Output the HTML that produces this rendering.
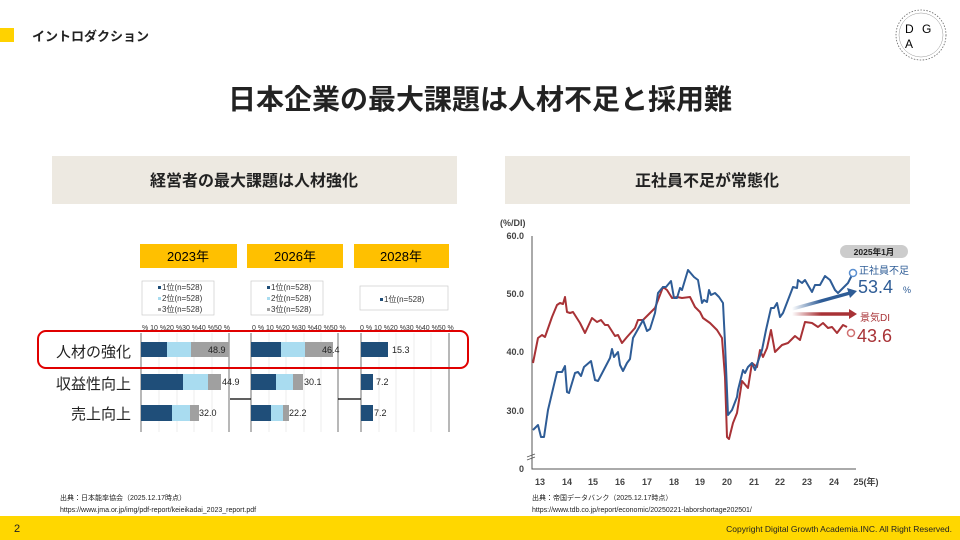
<!DOCTYPE html><html><head><meta charset="utf-8"><style>
body{margin:0;width:960px;height:540px;overflow:hidden;background:#fff;font-family:"Liberation Sans","Noto Sans CJK JP",sans-serif;position:relative}
.a{position:absolute;white-space:nowrap}
</style></head><body>
<div class="a" style="left:0;top:28px;width:14px;height:14px;background:#FFD200"></div>
<div class="a" style="left:32px;top:26px;font-size:13px;font-weight:bold;color:#222">イントロダクション</div>
<div class="a" style="left:0;width:960px;top:78px;text-align:center;font-size:28px;font-weight:bold;color:#222">日本企業の最大課題は人材不足と採用難</div>
<svg class="a" style="left:0;top:0" width="960" height="540">
<circle cx="921" cy="35" r="25" fill="none" stroke="#666" stroke-width="0.8" stroke-dasharray="1.5 1.5"/>
<circle cx="921" cy="35" r="22" fill="none" stroke="#999" stroke-width="0.5"/>
<text x="905" y="33" font-size="12" font-family="Liberation Sans">D</text><text x="922" y="33" font-size="12" font-family="Liberation Sans">G</text><text x="905" y="48" font-size="12" font-family="Liberation Sans">A</text>
<rect x="52" y="156" width="405" height="48" fill="#EDE9E1"/>
<rect x="505" y="156" width="405" height="48" fill="#EDE9E1"/>
<text x="254" y="186" font-size="16" font-weight="bold" text-anchor="middle" fill="#222">経営者の最大課題は人材強化</text>
<text x="707" y="186" font-size="16" font-weight="bold" text-anchor="middle" fill="#222">正社員不足が常態化</text>
<rect x="140" y="244" width="97" height="24" fill="#FFC000"/><rect x="247" y="244" width="96" height="24" fill="#FFC000"/><rect x="354" y="244" width="95" height="24" fill="#FFC000"/>
<text x="188" y="261" font-size="13" text-anchor="middle">2023年</text><text x="295" y="261" font-size="13" text-anchor="middle">2026年</text><text x="401" y="261" font-size="13" text-anchor="middle">2028年</text>
<g font-size="8" fill="#333">
<rect x="142" y="281" width="72" height="34" fill="#fff" stroke="#ccc" stroke-width="0.7"/>
<rect x="251" y="281" width="72" height="34" fill="#fff" stroke="#ccc" stroke-width="0.7"/>
<rect x="360" y="286" width="88" height="24" fill="#fff" stroke="#ccc" stroke-width="0.7"/>
<rect x="158" y="286" width="3" height="3" fill="#1F4E79"/><text x="162" y="290">1位(n=528)</text>
<rect x="158" y="297" width="3" height="3" fill="#A9DCF0"/><text x="162" y="301">2位(n=528)</text>
<rect x="158" y="308" width="3" height="3" fill="#A0A0A0"/><text x="162" y="312">3位(n=528)</text>
<rect x="267" y="286" width="3" height="3" fill="#1F4E79"/><text x="271" y="290">1位(n=528)</text>
<rect x="267" y="297" width="3" height="3" fill="#A9DCF0"/><text x="271" y="301">2位(n=528)</text>
<rect x="267" y="308" width="3" height="3" fill="#A0A0A0"/><text x="271" y="312">3位(n=528)</text>
<rect x="380" y="298" width="3" height="3" fill="#1F4E79"/><text x="384" y="302">1位(n=528)</text>
<text x="142" y="330" font-size="7">% 10 %20 %30 %40 %50 %</text>
<text x="252" y="330" font-size="7">0 % 10 %20 %30 %40 %50 %</text>
<text x="360" y="330" font-size="7">0 % 10 %20 %30 %40 %50 %</text>
</g>
<g stroke="#e4e4e4" stroke-width="0.7">
<path d="M159 333V432M177 333V432M194 333V432M212 333V432M269 333V432M286 333V432M304 333V432M321 333V432M379 333V432M396 333V432M414 333V432M431 333V432"/>
</g>
<g stroke="#888" stroke-width="1.2"><path d="M141 333V432M229 333V432M251 333V432M338 333V432M361 333V432M449 333V432"/></g>
<path d="M230 399H251M338 399H361" stroke="#000" stroke-width="1.2"/>
<g>
<rect x="141" y="342" width="26" height="15" fill="#1F4E79"/><rect x="167" y="342" width="24" height="15" fill="#A9DCF0"/><rect x="191" y="342" width="38" height="15" fill="#A0A0A0"/>
<rect x="141" y="374" width="42" height="16" fill="#1F4E79"/><rect x="183" y="374" width="25" height="16" fill="#A9DCF0"/><rect x="208" y="374" width="13" height="16" fill="#A0A0A0"/>
<rect x="141" y="405" width="31" height="16" fill="#1F4E79"/><rect x="172" y="405" width="18" height="16" fill="#A9DCF0"/><rect x="190" y="405" width="9" height="16" fill="#A0A0A0"/>
<rect x="251" y="342" width="30" height="15" fill="#1F4E79"/><rect x="281" y="342" width="24" height="15" fill="#A9DCF0"/><rect x="305" y="342" width="28" height="15" fill="#A0A0A0"/>
<rect x="251" y="374" width="25" height="16" fill="#1F4E79"/><rect x="276" y="374" width="17" height="16" fill="#A9DCF0"/><rect x="293" y="374" width="10" height="16" fill="#A0A0A0"/>
<rect x="251" y="405" width="20" height="16" fill="#1F4E79"/><rect x="271" y="405" width="12" height="16" fill="#A9DCF0"/><rect x="283" y="405" width="6" height="16" fill="#A0A0A0"/>
<rect x="361" y="342" width="27" height="15" fill="#1F4E79"/><rect x="361" y="374" width="12" height="16" fill="#1F4E79"/><rect x="361" y="405" width="12" height="16" fill="#1F4E79"/>
</g>
<g font-size="9" fill="#222">
<text x="208" y="353">48.9</text><text x="222" y="385">44.9</text><text x="199" y="416">32.0</text>
<text x="322" y="353">46.4</text><text x="304" y="385">30.1</text><text x="289" y="416">22.2</text>
<text x="392" y="353">15.3</text><text x="376" y="385">7.2</text><text x="374" y="416">7.2</text>
</g>
<rect x="38" y="331" width="430" height="37" rx="8" fill="none" stroke="#E00000" stroke-width="2"/>
<g font-size="15" fill="#222" text-anchor="end"><text x="131" y="357">人材の強化</text><text x="131" y="389">収益性向上</text><text x="131" y="419">売上向上</text></g>
<g font-size="9" font-weight="bold" fill="#444" text-anchor="end">
<text x="500" y="226" text-anchor="start">(%/DI)</text>
<text x="524" y="239">60.0</text><text x="524" y="297">50.0</text><text x="524" y="355">40.0</text><text x="524" y="414">30.0</text><text x="524" y="472">0</text>
</g>
<path d="M532 236V469H856" stroke="#555" stroke-width="1" fill="none"/>
<path d="M527 457l8 -3M527 460l8 -3" stroke="#555" stroke-width="0.8"/>
<g font-size="9" font-weight="bold" fill="#444" text-anchor="middle">
<text x="540" y="485">13</text><text x="567" y="485">14</text><text x="593" y="485">15</text><text x="620" y="485">16</text><text x="647" y="485">17</text><text x="674" y="485">18</text><text x="700" y="485">19</text><text x="727" y="485">20</text><text x="754" y="485">21</text><text x="780" y="485">22</text><text x="807" y="485">23</text><text x="834" y="485">24</text><text x="866" y="485">25(年)</text>
</g>
<polyline fill="none" stroke="#A83236" stroke-width="2" stroke-linejoin="round" points="533,363 538,338 542,335 545,337 552,317 557,305 560,303 563,304 565,297 567,312 570,313 573,312 580,323 585,333 592,318 597,322 601,320 605,325 608,325 615,336 618,335 622,343 627,337 635,328 638,320 643,320 648,315 655,308 663,287 667,290 672,298 677,297 682,298 690,297 695,307 700,312 703,318 710,323 717,330 722,338 725,377 727,437 729,439 733,423 737,413 742,381 748,388 752,363 757,367 760,350 763,357 767,348 771,330 775,352 782,345 788,343 795,336 800,340 805,322 812,323 818,327 823,323 828,328 832,327 837,333 843,325 847,327"/>
<polyline fill="none" stroke="#2E5C96" stroke-width="2" stroke-linejoin="round" points="533,430 538,425 541,437 544,437 548,410 557,372 562,372 565,366 567,392 569,393 575,373 578,372 581,376 584,367 591,361 595,380 598,381 610,358 612,349 614,357 618,352 620,365 623,371 627,363 630,359 633,338 642,322 643,320 647,331 650,329 655,313 658,293 663,287 666,287 671,281 674,298 677,298 680,288 682,290 688,270 694,277 698,280 702,303 704,300 707,302 709,290 711,295 715,293 719,297 723,303 725,343 728,415 732,410 737,397 738,390 743,370 745,373 748,367 752,363 755,370 762,350 766,330 771,308 774,308 777,303 780,317 783,313 788,300 793,287 797,288 798,280 802,283 805,280 812,292 815,285 820,285 825,276 830,280 835,290 838,293 843,288 848,283 853,273"/>
<defs><linearGradient id="bg" gradientUnits="userSpaceOnUse" x1="792" y1="0" x2="850" y2="0"><stop offset="0" stop-color="#2E5C96" stop-opacity="0"/><stop offset="0.5" stop-color="#2E5C96"/></linearGradient>
<linearGradient id="rg" gradientUnits="userSpaceOnUse" x1="792" y1="0" x2="850" y2="0"><stop offset="0" stop-color="#A83236" stop-opacity="0"/><stop offset="0.5" stop-color="#A83236"/></linearGradient></defs>
<path d="M792 309L850 293" stroke="url(#bg)" stroke-width="3.5"/><path d="M847 288l10 3-7 7z" fill="#2E5C96"/>
<path d="M792 314H850" stroke="url(#rg)" stroke-width="3.5"/><path d="M849 309l8 5-8 5z" fill="#A83236"/>
<circle cx="853" cy="273" r="3.5" fill="#fff" stroke="#5B8FD0" stroke-width="1.5"/>
<circle cx="851" cy="333" r="3.5" fill="#fff" stroke="#D07070" stroke-width="1.5"/>
<rect x="840" y="245" width="68" height="13" rx="6.5" fill="#ccc"/>
<text x="874" y="255" font-size="8.5" font-weight="bold" text-anchor="middle" fill="#222">2025年1月</text>
<text x="859" y="274" font-size="10" fill="#2E5C96">正社員不足</text>
<text x="858" y="293" font-size="18" fill="#2E5C96">53.4</text><text x="903" y="293" font-size="9" fill="#2E5C96">%</text>
<text x="860" y="321" font-size="10" fill="#A83236">景気DI</text>
<text x="857" y="342" font-size="18" fill="#A83236">43.6</text>
<g font-size="7" fill="#222">
<text x="60" y="500">出典：日本能率協会（2025.12.17時点）</text>
<text x="60" y="512">https://www.jma.or.jp/img/pdf-report/keieikadai_2023_report.pdf</text>
<text x="532" y="500">出典：帝国データバンク（2025.12.17時点）</text>
<text x="532" y="512">https://www.tdb.co.jp/report/economic/20250221-laborshortage202501/</text>
</g>
<rect x="0" y="516" width="960" height="24" fill="#FFD700"/>
<text x="14" y="532" font-size="11" fill="#222">2</text>
<text x="952" y="532" font-size="8.5" fill="#222" text-anchor="end">Copyright Digital Growth Academia.INC. All Right Reserved.</text>
</svg>
</body></html>
